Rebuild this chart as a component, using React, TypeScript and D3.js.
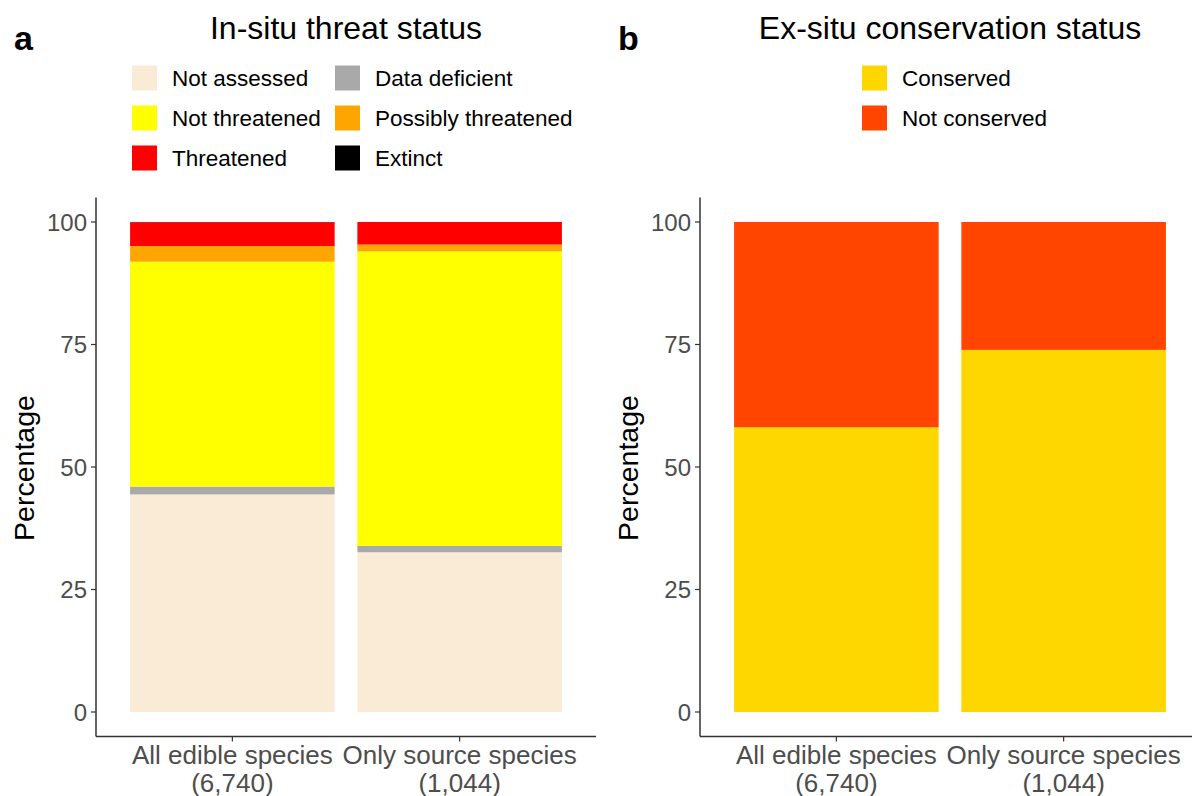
import React from "react";
import * as d3 from "d3";

// categories on the x axis
const groups = ["All edible species", "Only source species"];
const groupCounts = ["(6,740)", "(1,044)"];

// panel a: in-situ threat status, percentage per group (bottom to top)
const threatKeys = ["Not assessed", "Data deficient", "Not threatened", "Possibly threatened", "Threatened", "Extinct"];
const threatColors = ["#FAEBD7", "#A9A9A9", "#FFFF00", "#FFA500", "#FF0000", "#000000"];
const notAssessed = [44.4, 32.6];
const dataDeficient = [1.6, 1.3];
const notThreatened = [45.9, 60.1];
const possiblyThreatened = [3.2, 1.4];
const threatened = [4.85, 4.6];
const extinct = [0.05, 0.0];

// panel b: ex-situ conservation status
const exKeys = ["Conserved", "Not conserved"];
const exColors = ["#FFD700", "#FF4500"];
const conserved = [58.1, 73.9];
const notConserved = [41.9, 26.1];

const yTicks = [0, 25, 50, 75, 100];

const FONT = "Liberation Sans, Arial, sans-serif";

type PanelProps = {
  left: number;
  right: number;
  letter: string;
  title: string;
  keys: string[];
  colors: string[];
  series: number[][];
  legendX: number[];
  legendCols: number;
};

const top = 197.5;
const bottom = 736.5;

const Panel = ({ left, right, letter, title, keys, colors, series, legendX, legendCols }: PanelProps) => {
  const rows = groups.map((g, i) => {
    const r: any = { group: g };
    keys.forEach((k, j) => (r[k] = series[j][i]));
    return r;
  });
  const stacked = d3.stack<any>().keys(keys)(rows);

  // ggplot-like discrete axis: centres at 1 and 2, 0.6 expansion, bar width 0.9
  const x = d3.scaleLinear().domain([0.4, 2.6]).range([left, right]);
  const centre = (i: number) => x(i + 1);
  const barW = x(0.9) - x(0);
  const y = d3.scaleLinear().domain([-5, 105]).range([bottom, top]);

  const mid = (left + right) / 2;

  return (
    <g fontFamily={FONT}>
      <text x={left - 82} y={50} fontSize={34} fontWeight="bold" fill="#000">{letter}</text>
      <text x={mid} y={39} fontSize={32} textAnchor="middle" fill="#000">{title}</text>
      {keys.map((k, j) => {
        const col = j % legendCols;
        const row = Math.floor(j / legendCols);
        const lx = legendX[col];
        const ly = 78 + row * 40;
        return (
          <g key={k}>
            <rect x={lx} y={ly - 12.5} width={25} height={25} fill={colors[j]} />
            <text x={lx + 40} y={ly + 8} fontSize={22.5} fill="#000">{k}</text>
          </g>
        );
      })}
      {stacked.map((s, j) =>
        s.map((d, i) => (
          <rect
            key={keys[j] + i}
            x={centre(i) - barW / 2}
            y={y(d[1])}
            width={barW}
            height={Math.max(0, y(d[0]) - y(d[1]))}
            fill={colors[j]}
          />
        ))
      )}
      <line x1={left} x2={left} y1={top} y2={bottom} stroke="#333" strokeWidth={1.5} />
      <line x1={left} x2={right} y1={bottom} y2={bottom} stroke="#333" strokeWidth={1.5} />
      {yTicks.map((t) => (
        <g key={t}>
          <line x1={left - 5} x2={left} y1={y(t)} y2={y(t)} stroke="#333" strokeWidth={1.2} />
          <text x={left - 9} y={y(t) + 8.5} fontSize={24} textAnchor="end" fill="#4D4D4D">{t}</text>
        </g>
      ))}
      {groups.map((g, i) => (
        <g key={g}>
          <line x1={centre(i)} x2={centre(i)} y1={bottom} y2={bottom + 5} stroke="#333" strokeWidth={1.2} />
          <text x={centre(i)} y={764} fontSize={26} textAnchor="middle" fill="#4D4D4D">{g}</text>
          <text x={centre(i)} y={792} fontSize={26} textAnchor="middle" fill="#4D4D4D">{groupCounts[i]}</text>
        </g>
      ))}
      <text
        transform={`translate(${left - 62},${(top + bottom) / 2 + 1}) rotate(-90)`}
        fontSize={28.5}
        textAnchor="middle"
        fill="#000"
      >
        Percentage
      </text>
    </g>
  );
};

const App = () => {
  return (
    <svg width={1192} height={796} style={{ position: "absolute", left: 0, top: 0, background: "#fff" }}>
      <rect width={1192} height={796} fill="#fff" />
      <Panel
        left={96}
        right={596}
        letter="a"
        title="In-situ threat status"
        keys={threatKeys}
        colors={threatColors}
        series={[notAssessed, dataDeficient, notThreatened, possiblyThreatened, threatened, extinct]}
        legendX={[132, 335]}
        legendCols={2}
      />
      <Panel
        left={700}
        right={1200}
        letter="b"
        title="Ex-situ conservation status"
        keys={exKeys}
        colors={exColors}
        series={[conserved, notConserved]}
        legendX={[862]}
        legendCols={1}
      />
    </svg>
  );
};

export default App;
